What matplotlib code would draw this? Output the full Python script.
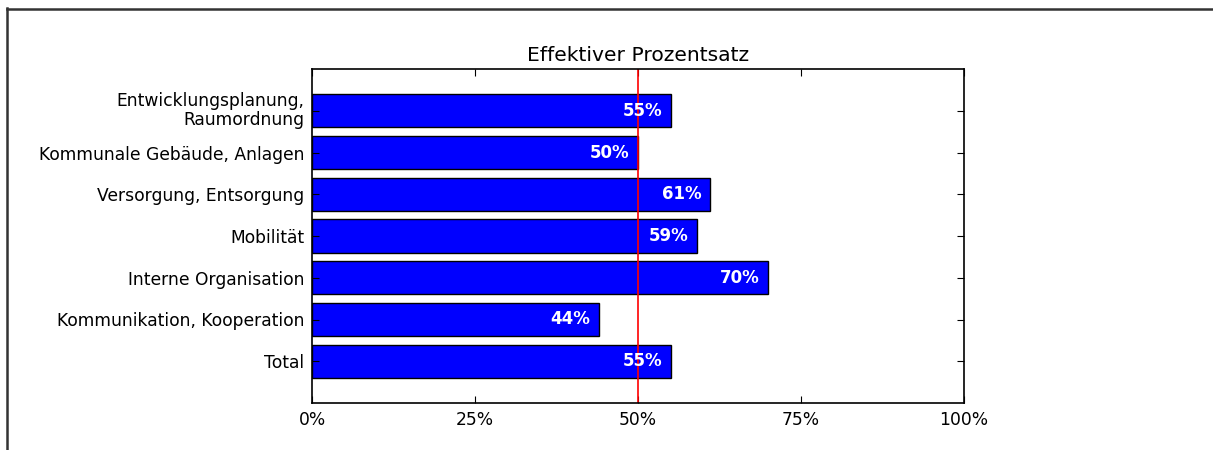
import matplotlib
matplotlib.use("Agg")
import matplotlib.pyplot as plt
from matplotlib.lines import Line2D

categories = ["Entwicklungsplanung,\nRaumordnung", "Kommunale Gebäude, Anlagen",
              "Versorgung, Entsorgung", "Mobilität", "Interne Organisation",
              "Kommunikation, Kooperation", "Total"]
values = [55, 50, 61, 59, 70, 44, 55]
xticks = [0, 25, 50, 75, 100]
xticklabels = ["0%", "25%", "50%", "75%", "100%"]
threshold = 50

W, H = 1213, 450
fig = plt.figure(figsize=(W / 100, H / 100), dpi=100)
ax = fig.add_axes([312 / W, 1 - 403 / H, (964 - 312) / W, (403 - 69) / H])

n = len(categories)
ypos = list(range(n - 1, -1, -1))
ax.barh(ypos, values, height=0.8, color="#0000ff", edgecolor="black", linewidth=1)
for y, v in zip(ypos, values):
    ax.text(v - 1.3, y, f"{v}%", ha="right", va="center", color="white",
            fontweight="bold", fontsize=12)
ax.axvline(threshold, color="red", linewidth=1.2)

ax.set_xlim(0, 100)
ax.set_ylim(-1, n)
ax.set_yticks(ypos)
ax.set_yticklabels(categories, fontsize=12.3, linespacing=1.05)
for lbl in ax.get_yticklabels():
    if "\n" in lbl.get_text():
        lbl.set_va("center")
ax.set_xticks(xticks)
ax.set_xticklabels(xticklabels, fontsize=12.3)
ax.tick_params(direction="in", top=True, right=True, length=5)
ax.tick_params(axis="x", pad=6)
ax.tick_params(axis="y", pad=5.5)
ax.set_title("Effektiver Prozentsatz", fontsize=14.6, pad=6)
for s in ax.spines.values():
    s.set_linewidth(1.2)

fig.add_artist(Line2D([7 / W, 7 / W], [0, 1 - 8 / H], transform=fig.transFigure,
                      color="#333333", linewidth=1.8))
fig.add_artist(Line2D([7 / W, 1], [1 - 8.5 / H, 1 - 8.5 / H], transform=fig.transFigure,
                      color="#333333", linewidth=1.8))

fig.savefig("out.png", dpi=100, facecolor="white")
